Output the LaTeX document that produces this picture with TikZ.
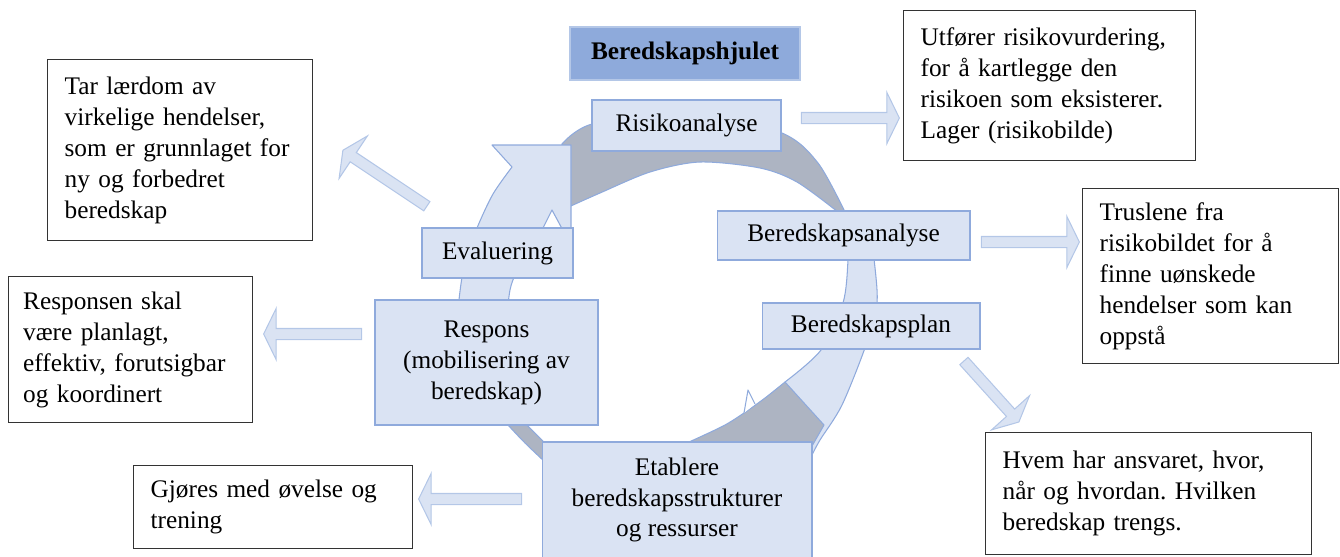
\documentclass[tikz,border=0pt]{standalone}
\usepackage{fontspec}
\newfontfamily\wheelfont{Liberation Serif}
\usetikzlibrary{arrows.meta, calc, shapes.arrows}

\definecolor{wheelfill}{HTML}{DAE3F3}
\definecolor{wheelline}{HTML}{8FAADC}
\definecolor{wheelgray}{HTML}{ADB4C2}
\definecolor{titlefill}{HTML}{8EAADB}
\definecolor{arrowline}{HTML}{B4C7E7}

\newcommand{\bodyfont}{\wheelfont\fontsize{14.4}{17.6}\selectfont}
% block arrow between two named points
\newcommand{\blockarrow}[3]{%
  \path let \p1=(#1), \p2=(#2), \n1={atan2(\y2-\y1,\x2-\x1)}, \n2={veclen(\x2-\x1,\y2-\y1)} in
    node[blockarr, minimum height=\n2, rotate=\n1] (#3) at ($(#1)!0.5!(#2)$) {};%
}
\frenchspacing

\begin{document}
\begin{tikzpicture}[x=0.02cm, y=-0.02cm,
    wheelpart/.style={draw=wheelline, line width=0.6pt, line join=round},
    wheelbox/.style={draw=wheelline, fill=wheelfill, line width=0.6pt, align=center, font=\bodyfont, inner sep=0pt},
    textbox/.style={draw=black!80, fill=white, line width=0.75pt, align=left, anchor=north west, inner xsep=0.34cm, font=\bodyfont},
    blockarr/.style={single arrow, draw=arrowline, fill=wheelfill, line width=0.6pt, inner xsep=0pt, inner ysep=0.1cm,
        single arrow head extend=0.4cm, single arrow tip angle=128}]

    \useasboundingbox (0,0) rectangle (1340,556);

    % gray back of the wheel (top)
    \filldraw[wheelpart, fill=wheelgray] plot[smooth] coordinates {(562,144) (592,124) (690,108) (782,133) (818,163) (845,212)}
        -- plot[smooth] coordinates {(838,212) (797,182) (760,168) (700,162) (650,172) (600,193) (562,210)} -- cycle;

    % left band with arrow head
    \filldraw[wheelpart, fill=wheelfill] plot[smooth] coordinates {(456,350) (459,300) (465,262) (477,228) (493,194) (512,167)}
        -- (492,145) -- (571,145) -- (571,236) -- (566,236) -- (552,210) -- (539,236)
        -- plot[smooth] coordinates {(539,236) (522,262) (510,290) (504,350)} -- cycle;

    % right band
    \filldraw[wheelpart, fill=wheelfill] plot[smooth] coordinates {(848,222) (848,260) (843,303) (821,350) (785,382)}
        -- (795,455) -- plot[smooth] coordinates {(812,455) (820,440) (842,405) (866,345) (877,303) (874,258) (870,222)} -- cycle;

    % gray arrow head (bottom right)
    \filldraw[wheelpart, fill=wheelgray] plot[smooth] coordinates {(680,446) (700,437) (725,425) (744,413) (765,398) (785,382)}
        -- (824,425) -- (812,446) -- cycle;
    \filldraw[wheelpart, fill=white] (744,413) -- (748,390) -- (755,404);

    % gray piece (bottom left)
    \filldraw[wheelpart, fill=wheelgray] plot[smooth] coordinates {(500,416) (508,425) (525,443) (545,462)}
        -- (560,462) -- plot[smooth] coordinates {(542,440) (527,425) (518,416)} -- cycle;

    % steps of the wheel
    \node[wheelbox, minimum width=3.78cm, minimum height=1.02cm] (risiko) at (686.5,125.5) {Risikoanalyse};
    \node[wheelbox, minimum width=5.06cm, minimum height=0.98cm] (analyse) at (843.5,235.5) {Beredskapsanalyse};
    \node[wheelbox, minimum width=4.36cm, minimum height=0.92cm] (plan) at (871,326) {Beredskapsplan};
    \node[wheelbox, minimum width=5.40cm, minimum height=2.32cm] (etablere) at (677,500) {Etablere\\beredskapsstrukturer\\og ressurser};
    \node[wheelbox, minimum width=4.46cm, minimum height=2.50cm] (respons) at (486.5,362.5) {Respons\\(mobilisering av\\beredskap)};
    \node[wheelbox, minimum width=3.02cm, minimum height=1.00cm] (evaluering) at (497.5,253) {Evaluering};

    % title
    \node[wheelbox, draw=arrowline, fill=titlefill, minimum width=4.6cm, minimum height=1.06cm] (title) at (685,53.5) {\textbf{Beredskapshjulet}};

    % explanations
    \node[textbox, text width=5.16cm, minimum height=3.00cm] (utforer) at (903,10) {Utfører risikovurdering,\\for å kartlegge den\\risikoen som eksisterer.\\Lager (risikobilde)};
    \node[textbox, text width=4.44cm, minimum height=3.50cm] (trusler) at (1082,188) {Truslene fra\\risikobildet for å\\finne uønskede\\hendelser som kan\\oppstå};
    \node[textbox, text width=5.84cm, minimum height=2.44cm] (hvem) at (985,432) {Hvem har ansvaret, hvor,\\når og hvordan. Hvilken\\beredskap trengs.};
    \node[textbox, text width=4.62cm, minimum height=3.62cm] (laerdom) at (47,59) {Tar lærdom av\\virkelige hendelser,\\som er grunnlaget for\\ny og forbedret\\beredskap};
    \node[textbox, text width=4.30cm, minimum height=2.92cm, inner xsep=0.29cm] (responsen) at (8,276) {Responsen skal\\være planlagt,\\effektiv, forutsigbar\\og koordinert};
    \node[textbox, text width=4.90cm, minimum height=1.66cm] (ovelse) at (133,465) {Gjøres med øvelse og\\trening};

    % end points of the block arrows
    \coordinate (risikoA) at (800,118);    \coordinate (risikoB) at (898,118);
    \coordinate (analyseA) at (980,242);   \coordinate (analyseB) at (1078,242);
    \coordinate (planA) at (963,360);      \coordinate (planB) at (1018,421);
    \coordinate (evalA) at (428,207);      \coordinate (evalB) at (344,151);
    \coordinate (responsA) at (363,334);   \coordinate (responsB) at (265,334);
    \coordinate (etablereA) at (523,499);  \coordinate (etablereB) at (420,499);

    \blockarrow{risikoA}{risikoB}{pil1}
    \blockarrow{analyseA}{analyseB}{pil2}
    \blockarrow{planA}{planB}{pil3}
    \blockarrow{evalA}{evalB}{pil4}
    \blockarrow{responsA}{responsB}{pil5}
    \blockarrow{etablereA}{etablereB}{pil6}

\end{tikzpicture}
\end{document}
